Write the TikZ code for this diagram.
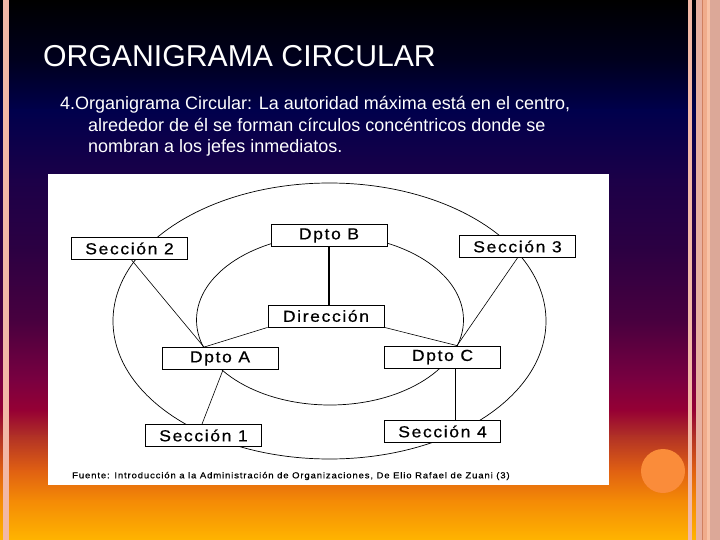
\documentclass[tikz,border=0pt]{standalone}
\usepackage{fontspec}
\setmainfont{Liberation Sans}
\newfontfamily\dfont{Liberation Sans}[LetterSpace=10,FakeStretch=1.1,FakeBold=0.6]
\newfontfamily\sfont{Liberation Sans}[LetterSpace=10,FakeStretch=1.1,FakeBold=0.4]
\usetikzlibrary{calc}
\definecolor{g0}{HTML}{000000}
\definecolor{g1}{HTML}{00001E}
\definecolor{g2}{HTML}{00004C}
\definecolor{g3}{HTML}{1C0048}
\definecolor{g4}{HTML}{2C0042}
\definecolor{g5}{HTML}{48003F}
\definecolor{g6}{HTML}{7A0040}
\definecolor{g7}{HTML}{960034}
\definecolor{g8}{HTML}{B03026}
\definecolor{g9}{HTML}{E06012}
\definecolor{g10}{HTML}{F48A06}
\definecolor{g11}{HTML}{FFB400}
\definecolor{stripe}{HTML}{F2B8A6}
\definecolor{panel}{HTML}{DCA898}
\definecolor{panelA}{HTML}{E8B0A0}
\definecolor{panelB}{HTML}{D08060}
\definecolor{panelC}{HTML}{F0AC8C}
\definecolor{panelD}{HTML}{F8C2A6}
\definecolor{sun}{HTML}{FA8C3A}
\begin{document}
\begin{tikzpicture}[x=1pt,y=-1pt,
  box/.style={draw=black, line width=0.8pt, fill=white, minimum width=116pt,
    minimum height=22pt, inner sep=0pt, font=\dfont\fontsize{16}{16}\selectfont},
  link/.style={draw=black, line width=0.6pt},
  ring/.style={draw=black, line width=0.7pt}]
\useasboundingbox (0,0) rectangle (720,540);
% background gradient
\shade[top color=g0,bottom color=g1] (0,0) rectangle (720,61);
\shade[top color=g1,bottom color=g2] (0,60) rectangle (720,111);
\shade[top color=g2,bottom color=g3] (0,110) rectangle (720,181);
\shade[top color=g3,bottom color=g4] (0,180) rectangle (720,251);
\shade[top color=g4,bottom color=g5] (0,250) rectangle (720,321);
\shade[top color=g5,bottom color=g6] (0,320) rectangle (720,381);
\shade[top color=g6,bottom color=g7] (0,380) rectangle (720,411);
\shade[top color=g7,bottom color=g8] (0,410) rectangle (720,436);
\shade[top color=g8,bottom color=g9] (0,435) rectangle (720,471);
\shade[top color=g9,bottom color=g10] (0,470) rectangle (720,501);
\shade[top color=g10,bottom color=g11] (0,500) rectangle (720,540);
% stripes
\fill[stripe] (3,0) rectangle (9,540);
\fill[stripe] (688,0) rectangle (692,540);
\fill[panel] (696,0) rectangle (720,540);
\fill[panelA] (696,0) rectangle (702,540);
\fill[panelB] (702,0) rectangle (703,540);
\fill[panelC] (703,0) rectangle (707,540);
\fill[panelD] (707,0) rectangle (710,540);
% sun
\fill[sun] (663,471) circle[radius=22pt];
% title and text
\node[anchor=base west, text=white, inner sep=0pt, font=\fontsize{30.2}{31}\selectfont] (title) at (43,67) {ORGANIGRAMA CIRCULAR};
\node[anchor=base west, text=white, inner sep=0pt, font=\fontsize{18}{20}\selectfont] (l1) at (60,110) {4.Organigrama Circular: La autoridad máxima está en el centro,};
\node[anchor=base west, text=white, inner sep=0pt, font=\fontsize{18}{20}\selectfont] (l2) at (88,132) {alrededor de él se forman círculos concéntricos donde se};
\node[anchor=base west, text=white, inner sep=0pt, font=\fontsize{18}{20}\selectfont] (l3) at (88,153) {nombran a los jefes inmediatos.};
% picture
\fill[white] (48,174) rectangle (609,485);
\draw[ring] (329.5,321) ellipse[x radius=216.5pt, y radius=138pt];
\draw[ring] (330,320) ellipse[x radius=133.5pt, y radius=85pt];
\node[box] (dB) at (329,235.5) {Dpto B};
\node[box] (s2) at (129.5,248.5) {Sección 2};
\node[box] (s3) at (517.5,246.5) {Sección 3};
\node[box] (dir) at (326,316) {Dirección};
\node[box] (dA) at (220,358.5) {Dpto A};
\node[box] (dC) at (442.5,357) {Dpto C};
\node[box] (s1) at (203.5,435.5) {Sección 1};
\node[box] (s4) at (442.5,431.5) {Sección 4};
\coordinate (aT) at ($(dA.north)+(-16,0)$);
\coordinate (cT) at ($(dC.north)+(14.5,0)$);
\draw[link, line width=1.4pt] (dB.south) -- (dB.south |- dir.north);
\draw[link] (dir.south west) -- (aT);
\draw[link] (dir.south east) -- (cT);
\draw[link] ($(s2.south)+(2,0)$) -- (aT);
\draw[link] (s3.south) -- (cT);
\draw[link] ($(dA.south)+(3,0)$) -- ($(s1.north)+(-1.5,0)$);
\draw[link] ($(dC.south)+(12.5,0)$) -- ($(s4.north)+(12.5,0)$);
\node[anchor=west, inner sep=0pt, font=\sfont\fontsize{8.66}{8.66}\selectfont] (src) at (72,476) {Fuente: Introducción a la Administración de Organizaciones, De Elio Rafael de Zuani (3)};
\end{tikzpicture}
\end{document}
